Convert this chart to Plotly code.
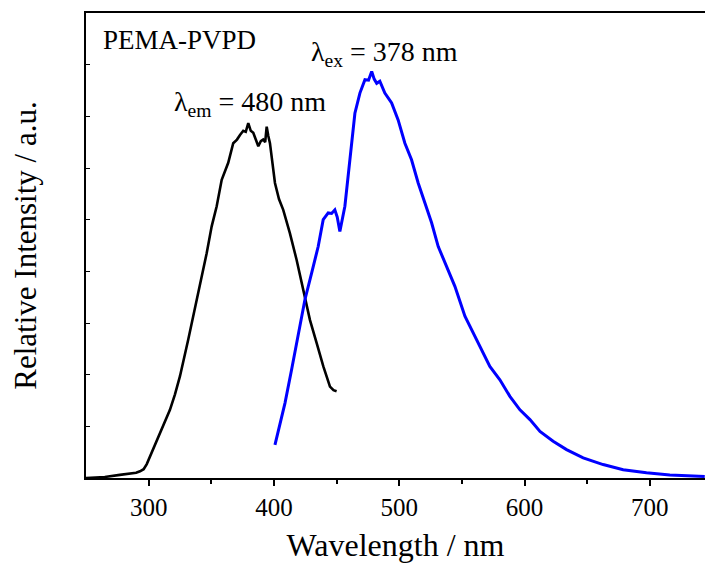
import plotly.graph_objects as go

# Excitation spectrum (monitored at 480 nm) - black
ex_wl = [250, 265, 277, 285.1, 290, 293.1, 296, 298.5, 301.1, 305, 309.0, 313, 317.0, 321, 325.0, 331.6, 335.6, 340.9,
         346.3, 350.3, 354.3, 358.3, 363.5, 367.5, 370.5, 372.9, 375.5, 377.5, 379.5, 381.5, 383.5,
         385.5, 387.5, 389.5, 391.4, 393.0, 394.2, 395.5, 396.8, 400.8, 404.0, 407.4, 412.7, 418.1,
         423.4, 428.7, 434.1, 439.4, 444.7, 447.5, 450.0]
ex_int = [0.0, 0.02, 0.06, 0.08, 0.10, 0.13, 0.17, 0.27, 0.42, 0.62, 0.87, 1.08, 1.32, 1.62, 1.97, 2.68, 3.13, 3.71,
          4.35, 4.87, 5.26, 5.77, 6.10, 6.48, 6.55, 6.64, 6.72, 6.70, 6.87, 6.72, 6.68,
          6.55, 6.42, 6.52, 6.55, 6.50, 6.80, 6.62, 6.48, 5.71, 5.40, 5.19, 4.74, 4.22,
          3.64, 3.06, 2.61, 2.16, 1.77, 1.70, 1.68]

# Emission spectrum (excited at 378 nm) - blue
em_wl = [400.8, 408.8, 414.1, 419.4, 424.7, 430.1, 435.3, 439.3, 443.3, 446.0, 448.6, 450.5, 452.6,
         456.6, 459.3, 462.0, 464.6, 468.6, 472.6, 475.5, 478.0, 480.0, 482.0, 484.5, 488.5, 493.9,
         499.1, 504.5, 509.8, 515.1, 520.4, 525.8, 531.1, 537.8, 544.4, 552.4, 556.4, 564.4, 572.3,
         580.3, 588.3, 596.3, 604.3, 612.3, 622.8, 633.5, 646.8, 662.7, 678.7, 697.3, 715.9, 743.8]
em_int = [0.64, 1.45, 2.10, 2.81, 3.45, 3.97, 4.48, 5.00, 5.13, 5.12, 5.19, 5.05, 4.77,
          5.26, 5.90, 6.48, 7.06, 7.45, 7.71, 7.70, 7.87, 7.72, 7.64, 7.68, 7.45, 7.26,
          6.93, 6.48, 6.16, 5.71, 5.32, 4.94, 4.48, 4.10, 3.71, 3.13, 2.93, 2.55, 2.16,
          1.90, 1.58, 1.32, 1.13, 0.90, 0.71, 0.55, 0.39, 0.26, 0.16, 0.10, 0.06, 0.03]

x_ticks = [300, 400, 500, 600, 700]
x_minor = [350, 450, 550, 650]
x_range = [250, 744]
y_range = [0, 9]

FONT = "Liberation Serif"

fig = go.Figure()
fig.add_trace(go.Scatter(x=ex_wl, y=ex_int, mode="lines",
                         line=dict(color="#000000", width=2.6), showlegend=False))
fig.add_trace(go.Scatter(x=em_wl, y=em_int, mode="lines",
                         line=dict(color="#0000FF", width=3), showlegend=False))

fig.update_layout(
    width=705, height=572,
    margin=dict(l=86, r=0, t=13, b=94),
    paper_bgcolor="white", plot_bgcolor="white",
    font=dict(family=FONT, color="black"),
    xaxis=dict(
        range=x_range, tickvals=x_ticks, ticktext=[str(v) for v in x_ticks],
        ticks="outside", ticklen=6, tickwidth=1.5, tickcolor="black",
        minor=dict(tickvals=x_minor, ticks="outside", ticklen=4, tickwidth=1.5, tickcolor="black"),
        showline=True, linecolor="black", linewidth=2, mirror=True,
        showgrid=False, zeroline=False,
        tickfont=dict(family=FONT, size=25, color="black"),
        title=dict(text="Wavelength / nm", font=dict(family=FONT, size=32, color="black"), standoff=14),
    ),
    yaxis=dict(
        range=y_range, dtick=1, tick0=0,
        ticks="inside", ticklen=4, tickwidth=1, tickcolor="black",
        showticklabels=False,
        showline=True, linecolor="black", linewidth=2,
        showgrid=False, zeroline=False,
        title=dict(text="Relative Intensity / a.u.", font=dict(family=FONT, size=31, color="black"), standoff=38),
    ),
)

fig.add_annotation(xref="paper", yref="paper", x=0.024, y=0.942, xanchor="left", yanchor="middle",
                   text="PEMA-PVPD", showarrow=False, font=dict(family=FONT, size=27, color="black"))
fig.add_annotation(xref="paper", yref="paper", x=(309 - 86) / 619, y=(478 - 54) / 465,
                   xanchor="left", yanchor="middle",
                   text="λ<sub>ex</sub> = 378 nm", showarrow=False, font=dict(family=FONT, size=28, color="black"))
fig.add_annotation(xref="paper", yref="paper", x=(172 - 86) / 619, y=(478 - 104) / 465,
                   xanchor="left", yanchor="middle",
                   text="λ<sub>em</sub> = 480 nm", showarrow=False, font=dict(family=FONT, size=28, color="black"))

fig.write_html("out.html")
